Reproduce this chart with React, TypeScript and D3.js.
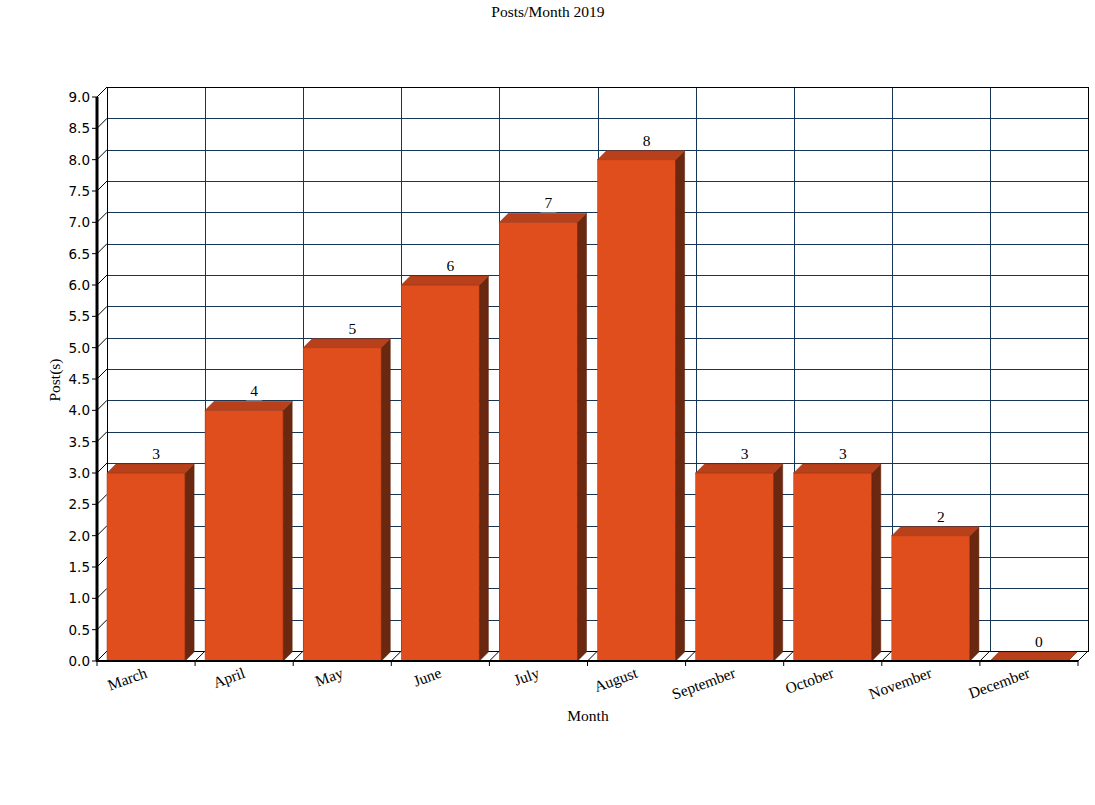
import React from "react";
import * as d3 from "d3";

const months = ["March", "April", "May", "June", "July", "August", "September", "October", "November", "December"];
const posts = [3, 4, 5, 6, 7, 8, 3, 3, 2, 0];
const yTicks = [0, 0.5, 1, 1.5, 2, 2.5, 3, 3.5, 4, 4.5, 5, 5.5, 6, 6.5, 7, 7.5, 8, 8.5, 9];

const W = 1095, H = 805;
const L = 97, R = 1078, T = 97, B = 661;
const D = 10; // wall depth
const BD = 9; // bar depth
const FS = 15.5;

export default function App() {
  const x = d3.scaleBand<string>().domain(months).range([L, R]).padding(0);
  const y = d3.scaleLinear().domain([0, 9]).range([B, T]);
  const bw = x.bandwidth();
  const front = "#E04E1E", top = "#B8401A", side = "#6B2810";
  const grid = "#163656";

  return (
    <svg width={W} height={H} style={{ display: "block", position: "absolute", left: 0, top: 0 }}>
      <rect width={W} height={H} fill="#fff" />
      <text x={548} y={17} textAnchor="middle" fontFamily="Liberation Serif" fontSize={FS} fill="#000">Posts/Month 2019</text>
      {/* back wall grid */}
      <g shapeRendering="crispEdges">
        {yTicks.map((t) => (
          <line key={"h" + t} x1={L + D} x2={R + D} y1={Math.round(y(t)) - D + 0.5} y2={Math.round(y(t)) - D + 0.5} stroke={grid} strokeWidth={1} />
        ))}
        {d3.range(months.length + 1).map((i) => {
          const xx = Math.round(L + i * bw + D) + 0.5;
          return <line key={"v" + i} x1={xx} x2={xx} y1={T - D} y2={B - D} stroke={grid} strokeWidth={1} />;
        })}
        <rect x={L + D + 0.5} y={T - D + 0.5} width={R - L} height={B - T} fill="none" stroke="#000" strokeWidth={1} />
      </g>
      {/* left wall diagonals */}
      {yTicks.map((t) => (
        <line key={"d" + t} x1={L} y1={y(t)} x2={L + D} y2={y(t) - D} stroke="#000" strokeWidth={1} />
      ))}
      {/* floor diagonals */}
      {d3.range(months.length + 1).map((i) => {
        const xx = L + i * bw;
        return <line key={"f" + i} x1={xx} y1={B} x2={xx + D} y2={B - D} stroke="#000" strokeWidth={1} />;
      })}
      {/* bars */}
      {months.map((m, i) => {
        const x0 = (x(m) as number) + 10;
        const x1 = x0 + bw - 20;
        const yt = y(posts[i]);
        const yb = B;
        return (
          <g key={m}>
            {posts[i] > 0 && (
              <rect x={x0} y={yt} width={x1 - x0} height={yb - yt} fill={front} stroke="#a83a16" strokeWidth={0.5} />
            )}
            <polygon
              points={`${x1},${yt} ${x1 + BD},${yt - BD} ${x1 + BD},${yb - BD} ${x1},${yb}`}
              fill={side}
              stroke="#5a200c"
              strokeWidth={0.5}
            />
            <polygon
              points={`${x0},${yt} ${x1},${yt} ${x1 + BD},${yt - BD} ${x0 + BD},${yt - BD}`}
              fill={top}
              stroke="#9a3414"
              strokeWidth={0.5}
            />
          </g>
        );
      })}
      {/* value labels */}
      {months.map((m, i) => {
        const cx = (x(m) as number) + bw / 2 + 10;
        const yt = y(posts[i]);
        return (
          <g key={"l" + m}>
            <rect x={cx - 8} y={yt - 27} width={16} height={17} fill="#fff" />
            <text x={cx} y={yt - 14} textAnchor="middle" fontFamily="Liberation Serif" fontSize={FS} fill="#000">
              {posts[i]}
            </text>
          </g>
        );
      })}
      {/* axes */}
      <line x1={L} x2={L} y1={T} y2={B} stroke="#000" strokeWidth={3} />
      <line x1={L - 1} x2={R} y1={B} y2={B} stroke="#000" strokeWidth={2} />
      {yTicks.map((t) => (
        <g key={"yt" + t}>
          <line x1={L - 5} x2={L} y1={y(t)} y2={y(t)} stroke="#000" strokeWidth={1} />
          <text x={L - 7} y={y(t) + 5} textAnchor="end" fontFamily="DejaVu Sans" fontSize={13.5} fill="#000">
            {t.toFixed(1)}
          </text>
        </g>
      ))}
      {d3.range(months.length + 1).map((i) => {
        const xx = L + i * bw;
        return <line key={"xt" + i} x1={xx} x2={xx} y1={B} y2={B + 5} stroke="#000" strokeWidth={1} />;
      })}
      {months.map((m) => {
        const cx = (x(m) as number) + bw / 2 + 2;
        return (
          <text
            key={"xl" + m}
            transform={`translate(${cx},${B + 16}) rotate(-20)`}
            textAnchor="end"
            fontFamily="Liberation Serif"
            fontSize={FS}
            fill="#000"
          >
            {m}
          </text>
        );
      })}
      <text x={588} y={721} textAnchor="middle" fontFamily="Liberation Serif" fontSize={FS} fill="#000">Month</text>
      <text transform={`translate(60,380) rotate(-90)`} textAnchor="middle" fontFamily="Liberation Serif" fontSize={FS} fill="#000">Post(s)</text>
    </svg>
  );
}
